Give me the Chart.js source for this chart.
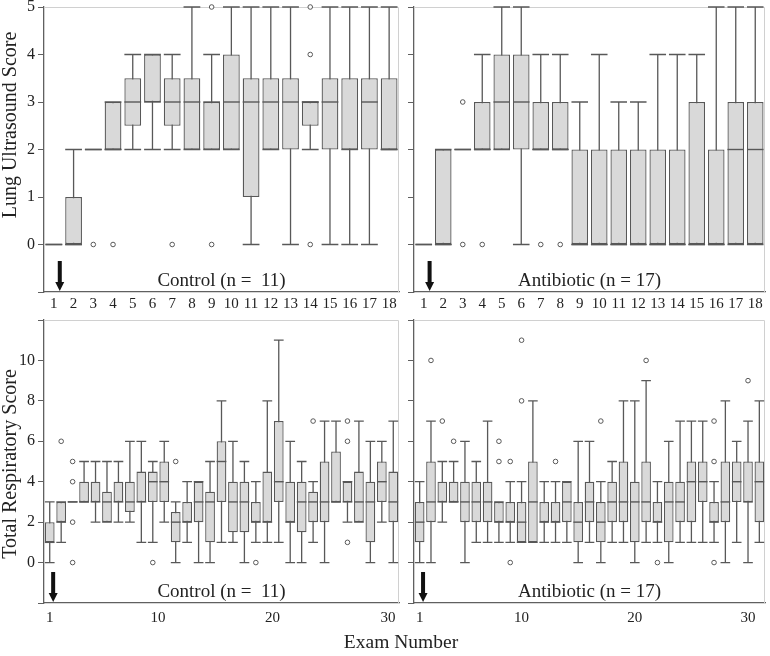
<!DOCTYPE html>
<html>
<head>
<meta charset="utf-8">
<script src="https://cdn.jsdelivr.net/npm/chart.js@4.4.0/dist/chart.umd.min.js"></script>
<style>
  body { margin: 0; background: #fff; }
  #wrap { position: relative; width: 770px; height: 656px; font-family: "Liberation Serif", "DejaVu Serif", serif; color: #222; overflow: hidden; }
  canvas { position: absolute; }
  .ytitle { position: absolute; font-size: 20px; white-space: nowrap; transform: translate(-50%, -50%) rotate(-90deg); z-index: 2; }
  #xtitle { position: absolute; left: 401px; top: 642px; font-size: 19.5px; white-space: nowrap; transform: translate(-50%, -50%); z-index: 2; }
</style>
</head>
<body>
<div id="wrap">
  <canvas id="lusCtrl" width="405" height="320" style="left:0;top:0"></canvas>
  <canvas id="lusAbx" width="365" height="320" style="left:405px;top:0"></canvas>
  <canvas id="trsCtrl" width="405" height="330" style="left:0;top:310px"></canvas>
  <canvas id="trsAbx" width="365" height="330" style="left:405px;top:310px"></canvas>
  <div class="ytitle" style="left:9px;top:125px">Lung Ultrasound Score</div>
  <div class="ytitle" style="left:9px;top:464px">Total Respiratory Score</div>
  <div id="xtitle">Exam Number</div>
</div>
<script>
// box stats per exam: [min, q1, median, q3, max]
const lusControl = [
  [0,0,0,0,0], [0,0,0,1,2], [2,2,2,2,2], [2,2,2,3,3], [2,2.5,3,3.5,4], [2,3,3,4,4],
  [2,2.5,3,3.5,4], [2,2,3,3.5,5], [2,2,3,3,4], [2,2,3,4,5], [0,1,3,3.5,5], [2,2,3,3.5,5],
  [0,2,3,3.5,5], [2,2.5,3,3,3], [0,2,3,3.5,5], [0,2,2,3.5,5], [0,2,3,3.5,5], [2,2,2,3.5,5]
];
const lusControlOut = [[3,0], [4,0], [7,0], [9,5], [9,0], [14,5], [14,4], [14,0]];

const lusAntibiotic = [
  [0,0,0,0,0], [0,0,0,2,2], [2,2,2,2,2], [2,2,2,3,4], [2,2,3,4,5], [0,2,3,4,5],
  [2,2,2,3,4], [2,2,2,3,4], [0,0,0,2,3], [0,0,0,2,4], [0,0,0,2,3], [0,0,0,2,3],
  [0,0,0,2,4], [0,0,0,2,4], [0,0,0,3,4], [0,0,0,2,5], [0,0,2,3,5], [0,0,2,3,5]
];
const lusAntibioticOut = [[3,3], [3,0], [4,0], [7,0], [8,0]];

const trsControl = [
  [0,1,1,2,3], [1,2,2,3,3], [3,3,3,3,3], [3,3,3,4,5], [2,3,3,4,5], [2,2,3,3.5,5],
  [2,3,3,4,5], [2,2.5,3,4,6], [1,3,3,4.5,6], [1,3,4,4.5,5], [2,3,4,5,6], [0,1,2,2.5,3],
  [1,2,2,3,4], [0,2,3,4,4], [0,1,3,3.5,5], [1,3,5,6,8], [1,1.5,3,4,6], [0,1.5,3,4,5],
  [1,2,2,3,4], [1,2,2,4.5,8], [1,3,4,7,11], [0,2,2,4,6], [0,1.5,3,4,5], [1,2,3,3.5,4],
  [0,2,3,5,7], [3,3,3,5.5,7], [2,3,3,4,4], [2,2,3,4.5,7], [0,1,3,4,6], [2,3,4,5,6],
  [0,2,3,4.5,7]
];
const trsControlOut = [[2,6], [3,5], [3,4], [3,2], [3,0], [10,0], [12,5], [19,0],
  [24,7], [27,7], [27,6], [27,1]];

const trsAntibiotic = [
  [0,1,2,3,4], [0,2,3,5,7], [2,3,3,4,5], [3,3,3,4,5], [0,2,3,4,6], [1,2,3,4,5],
  [1,2,3,4,7], [1,2,2,3,3], [1,2,2,3,4], [1,1,2,3,4], [1,1,3,5,8], [1,2,2,3,4],
  [1,2,2,3,4], [1,2,3,4,4], [0,1,2,3,6], [1,2,3,4,6], [0,1,2,3,4], [1,2,3,4,5],
  [1,2,3,5,8], [0,1,3,4,8], [1,2,3,5,9], [1,2,2,3,4], [0,1,3,4,6], [1,2,3,4,7],
  [1,2,4,5,7], [1,3,4,5,7], [1,2,2,3,4], [0,2,3,5,8], [1,3,4,5,6], [0,3,3,5,7],
  [1,2,4,5,8]
];
const trsAntibioticOut = [[2,10], [3,7], [4,6], [8,6], [8,5], [9,5], [9,0], [10,11],
  [10,8], [13,5], [17,7], [21,10], [22,0], [27,7], [27,5], [27,0], [30,9]];

// x tick labels
const topTickLabels = ['1','2','3','4','5','6','7','8','9','10','11','12','13','14','15','16','17','18'];
const topTickPos = [1,2,3,4,5,6,7,8,9,10,11,12,13,14,15,16,17,18];
const bottomTickLabels = ['1', '10', '20', '30'];
const bottomLeftTickPos = [1, 10.45, 20.45, 30.55];
const bottomRightTickPos = [1, 10, 20, 30];

const controlLabel = 'Control (n =  11)';
const antibioticLabel = 'Antibiotic (n = 17)';
const firstDoseExam = 1.3; // arrow

const fillColor = '#d9d9d9';
const lineColor = '#585858';
const axisColor = '#606060';
const frameColor = '#d0d0d0';
const textColor = '#222';
const family = '"Liberation Serif", "DejaVu Serif", serif';

// whiskers, caps, medians, arrow and group label
const boxExtras = {
  id: 'boxExtras',
  beforeDatasetsDraw(chart, args, opts) {
    const { ctx, chartArea, scales: { y } } = chart;
    const meta = chart.getDatasetMeta(1);
    ctx.save();
    ctx.strokeStyle = frameColor;
    ctx.lineWidth = 1;
    ctx.beginPath();
    ctx.moveTo(chartArea.left, chartArea.top + 0.5);
    ctx.lineTo(chartArea.right - 0.5, chartArea.top + 0.5);
    ctx.lineTo(chartArea.right - 0.5, chartArea.bottom);
    ctx.stroke();

    ctx.strokeStyle = lineColor;
    ctx.lineWidth = 1.3;
    opts.stats.forEach((s, i) => {
      const bar = meta.data[i];
      const half = bar.width / 2;
      const lo = y.getPixelForValue(s[0]);
      const hi = y.getPixelForValue(s[4]);
      ctx.beginPath();
      ctx.moveTo(bar.x, lo); ctx.lineTo(bar.x, hi);
      ctx.moveTo(bar.x - half, lo); ctx.lineTo(bar.x + half, lo);
      ctx.moveTo(bar.x - half, hi); ctx.lineTo(bar.x + half, hi);
      ctx.stroke();
    });
    ctx.restore();
  },
  afterDatasetsDraw(chart, args, opts) {
    const { ctx, chartArea, scales: { x, y } } = chart;
    const meta = chart.getDatasetMeta(1);
    ctx.save();
    ctx.strokeStyle = lineColor;
    ctx.lineWidth = 1.4;
    opts.stats.forEach((s, i) => {
      const bar = meta.data[i];
      const half = bar.width / 2;
      const m = y.getPixelForValue(s[2]);
      ctx.beginPath();
      ctx.moveTo(bar.x - half, m); ctx.lineTo(bar.x + half, m);
      ctx.stroke();
    });

    // arrow at first treatment
    const ax = x.getPixelForValue(opts.arrowAt);
    const tip = chartArea.bottom - 1;
    ctx.fillStyle = '#111';
    ctx.fillRect(ax - 2, tip - 30, 4, 22);
    ctx.beginPath();
    ctx.moveTo(ax - 4.5, tip - 9);
    ctx.lineTo(ax + 4.5, tip - 9);
    ctx.lineTo(ax, tip);
    ctx.closePath();
    ctx.fill();

    ctx.fillStyle = textColor;
    ctx.font = '19px ' + family;
    ctx.textAlign = 'center';
    ctx.textBaseline = 'middle';
    ctx.fillText(opts.label, (chartArea.left + chartArea.right) / 2, chartArea.bottom - 11);
    ctx.restore();
  }
};

function makePanel(id, stats, outliers, o) {
  const boxes = stats.map((s, i) => ({ x: i + 1, y: [s[1], s[3]] }));
  const points = outliers.map(p => ({ x: p[0], y: p[1] }));
  return new Chart(document.getElementById(id), {
    type: 'bar',
    data: {
      datasets: [
        {
          type: 'scatter',
          data: points,
          pointRadius: 2.3,
          pointBackgroundColor: '#fff',
          pointBorderColor: lineColor,
          pointBorderWidth: 1,
          clip: false,
          order: 0
        },
        {
          data: boxes,
          backgroundColor: fillColor,
          borderColor: lineColor,
          borderWidth: 1.3,
          borderSkipped: false,
          barPercentage: 0.85,
          categoryPercentage: 1,
          order: 1
        }
      ]
    },
    options: {
      responsive: false,
      animation: false,
      events: [],
      layout: { padding: { top: o.padTop, right: o.padRight, left: 0, bottom: 0 } },
      plugins: {
        legend: { display: false },
        tooltip: { enabled: false },
        boxExtras: { stats: stats, label: o.label, arrowAt: firstDoseExam }
      },
      scales: {
        x: {
          type: 'linear',
          min: 0.5,
          max: stats.length + 0.5,
          offset: false,
          grid: { display: false, drawTicks: false },
          border: { color: axisColor, width: 1.3 },
          afterBuildTicks: s => { s.ticks = o.tickPos.map(v => ({ value: v })); },
          afterFit: s => { s.height = o.xHeight; s.paddingLeft = 0; s.paddingRight = 0; },
          ticks: {
            autoSkip: false,
            maxRotation: 0,
            padding: o.xPad,
            color: textColor,
            font: { family: family, size: 15 },
            callback: (v, i) => o.tickLabels[i]
          }
        },
        y: {
          min: o.yMin,
          max: o.yMax,
          grid: { drawOnChartArea: false, drawTicks: true, tickLength: 6, color: axisColor, lineWidth: 1 },
          border: { color: axisColor, width: 1.3 },
          afterFit: s => { s.width = o.yWidth; s.paddingTop = 0; s.paddingBottom = 0; },
          ticks: {
            stepSize: o.yStep,
            display: o.showY,
            padding: 3,
            color: textColor,
            font: { family: family, size: 16 },
            callback: v => (v < 0 || v > o.yLabelMax) ? '' : v
          }
        }
      }
    },
    plugins: [boxExtras]
  });
}

makePanel('lusCtrl', lusControl, lusControlOut, {
  label: controlLabel, tickPos: topTickPos, tickLabels: topTickLabels,
  padTop: 7, padRight: 6, xHeight: 28, xPad: 3, yWidth: 44, showY: true,
  yMin: -1, yMax: 5, yStep: 1, yLabelMax: 5
});
makePanel('lusAbx', lusAntibiotic, lusAntibioticOut, {
  label: antibioticLabel, tickPos: topTickPos, tickLabels: topTickLabels,
  padTop: 7, padRight: 2, xHeight: 28, xPad: 3, yWidth: 9, showY: false,
  yMin: -1, yMax: 5, yStep: 1, yLabelMax: 5
});
makePanel('trsCtrl', trsControl, trsControlOut, {
  label: controlLabel, tickPos: bottomLeftTickPos, tickLabels: bottomTickLabels,
  padTop: 10, padRight: 6, xHeight: 37, xPad: 6, yWidth: 44, showY: true,
  yMin: -2, yMax: 12, yStep: 2, yLabelMax: 10
});
makePanel('trsAbx', trsAntibiotic, trsAntibioticOut, {
  label: antibioticLabel, tickPos: bottomRightTickPos, tickLabels: bottomTickLabels,
  padTop: 10, padRight: 2, xHeight: 37, xPad: 6, yWidth: 9, showY: false,
  yMin: -2, yMax: 12, yStep: 2, yLabelMax: 10
});
</script>
</body>
</html>
